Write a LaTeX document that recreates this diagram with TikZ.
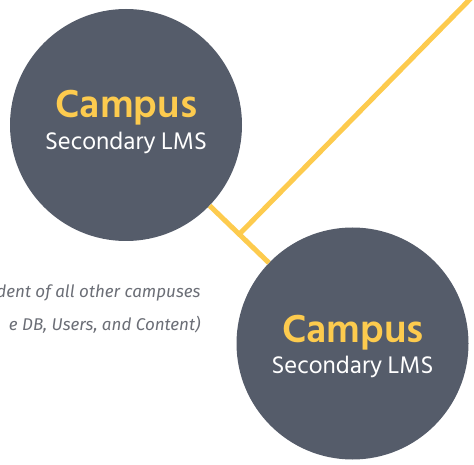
\documentclass[tikz,border=0pt]{standalone}
\usepackage{fontspec}
\newfontfamily\hindfont{Hind Siliguri}
\newfontfamily\notefont{Fira Sans}
\usetikzlibrary{calc}

\definecolor{slate}{HTML}{555C6A}
\definecolor{gold}{HTML}{FDCB4E}
\definecolor{notegray}{HTML}{6B6E76}

\tikzset{
  campus/.style={circle, fill=slate, minimum size=232pt, inner sep=0pt},
  title/.style={anchor=base, text=gold, font=\hindfont\bfseries\fontsize{40}{40}\selectfont},
  subtitle/.style={anchor=base, text=white, font=\hindfont\fontsize{24.6}{24.6}\selectfont},
  link/.style={draw=gold, line width=5pt},
  note/.style={anchor=base east, text=notegray, font=\notefont\itshape\fontsize{17}{17}\selectfont}
}

\begin{document}
\begin{tikzpicture}[x=1pt, y=-1pt]

    \useasboundingbox (0,0) rectangle (474,465);
    \clip (0,0) rectangle (474,465);

    % the two campuses
    \node[campus] (campusA) at (126,125) {};
    \node[campus] (campusB) at (352.5,343.5) {};

    % links between them
    \coordinate (fork) at ($(campusA.center)!0.5!(campusB.center)$);
    \coordinate (away) at (479,-10);
    \draw[link] (campusA) -- (campusB);
    \draw[link] (fork) -- (away);

    % labels
    \node[title] (titleA) at (126.5,118) {Campus};
    \node[subtitle] (subA) at (126,150) {Secondary LMS};
    \node[title] (titleB) at (353,342) {Campus};
    \node[subtitle] (subB) at (352.5,373) {Secondary LMS};

    % side note, cut by the left edge
    \node[note] (noteA) at (204,298) {dent of all other campuses};
    \node[note] (noteB) at (204,330) {e DB, Users, and Content)};

\end{tikzpicture}
\end{document}
